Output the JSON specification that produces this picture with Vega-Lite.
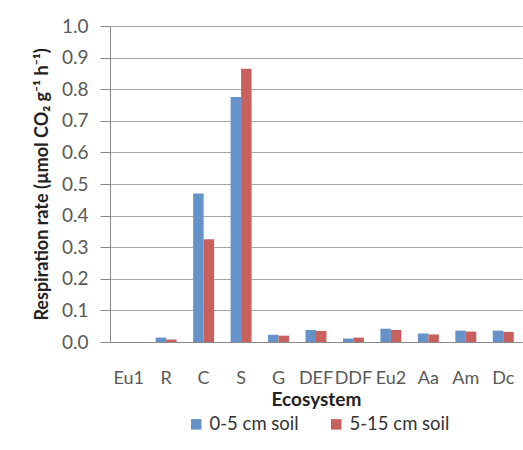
{
  "$schema": "https://vega.github.io/schema/vega-lite/v6.json",
  "width": 412,
  "height": 316,
  "autosize": "none",
  "padding": {"left": 110, "top": 26, "right": 1, "bottom": 108},
  "background": "white",
  "config": {
    "font": "Lato",
    "view": {"stroke": null},
    "axis": {"labelFont": "Lato", "titleFont": "Lato", "labelColor": "#595959", "titleColor": "#222222"}
  },
  "data": {
    "values": [
      {"eco": "Eu1", "depth": "0-5 cm soil", "rate": 0.0},
      {"eco": "Eu1", "depth": "5-15 cm soil", "rate": 0.0},
      {"eco": "R", "depth": "0-5 cm soil", "rate": 0.014},
      {"eco": "R", "depth": "5-15 cm soil", "rate": 0.008},
      {"eco": "C", "depth": "0-5 cm soil", "rate": 0.47},
      {"eco": "C", "depth": "5-15 cm soil", "rate": 0.325},
      {"eco": "S", "depth": "0-5 cm soil", "rate": 0.775},
      {"eco": "S", "depth": "5-15 cm soil", "rate": 0.865},
      {"eco": "G", "depth": "0-5 cm soil", "rate": 0.023},
      {"eco": "G", "depth": "5-15 cm soil", "rate": 0.02},
      {"eco": "DEF", "depth": "0-5 cm soil", "rate": 0.038},
      {"eco": "DEF", "depth": "5-15 cm soil", "rate": 0.035},
      {"eco": "DDF", "depth": "0-5 cm soil", "rate": 0.011},
      {"eco": "DDF", "depth": "5-15 cm soil", "rate": 0.014},
      {"eco": "Eu2", "depth": "0-5 cm soil", "rate": 0.042},
      {"eco": "Eu2", "depth": "5-15 cm soil", "rate": 0.038},
      {"eco": "Aa", "depth": "0-5 cm soil", "rate": 0.027},
      {"eco": "Aa", "depth": "5-15 cm soil", "rate": 0.024},
      {"eco": "Am", "depth": "0-5 cm soil", "rate": 0.036},
      {"eco": "Am", "depth": "5-15 cm soil", "rate": 0.033},
      {"eco": "Dc", "depth": "0-5 cm soil", "rate": 0.036},
      {"eco": "Dc", "depth": "5-15 cm soil", "rate": 0.032}
    ]
  },
  "mark": {"type": "bar"},
  "encoding": {
    "x": {
      "field": "eco",
      "type": "nominal",
      "sort": null,
      "scale": {"paddingInner": 0.44, "paddingOuter": 0.22},
      "axis": {
        "title": "Ecosystem",
        "titleFontSize": 19,
        "titleFontWeight": "bold",
        "titlePadding": 3,
        "labelAngle": 0,
        "labelFontSize": 18,
        "labelPadding": 27,
        "ticks": false,
        "domainColor": "#888888",
        "grid": false
      }
    },
    "xOffset": {"field": "depth", "type": "nominal"},
    "y": {
      "field": "rate",
      "type": "quantitative",
      "scale": {"domain": [0, 1]},
      "axis": {
        "title": "Respiration rate (µmol CO₂ g⁻¹ h⁻¹)",
        "titleFontSize": 18,
        "titleFontWeight": "bold",
        "titlePadding": 10,
        "values": [0, 0.1, 0.2, 0.3, 0.4, 0.5, 0.6, 0.7, 0.8, 0.9, 1.0],
        "format": ".1f",
        "labelFontSize": 19,
        "labelPadding": 12,
        "tickSize": 10,
        "tickColor": "#888888",
        "domainColor": "#888888",
        "gridColor": "#a6a6a6"
      }
    },
    "color": {
      "field": "depth",
      "type": "nominal",
      "scale": {"range": ["#6592c8", "#c8605e"]},
      "legend": {
        "title": null,
        "orient": "none",
        "legendX": 77,
        "legendY": 389,
        "direction": "horizontal",
        "symbolType": "square",
        "symbolSize": 110,
        "labelFontSize": 18.5,
        "labelColor": "#333333",
        "labelFont": "Lato",
        "columnPadding": 28,
        "symbolStrokeWidth": 0
      }
    }
  }
}
